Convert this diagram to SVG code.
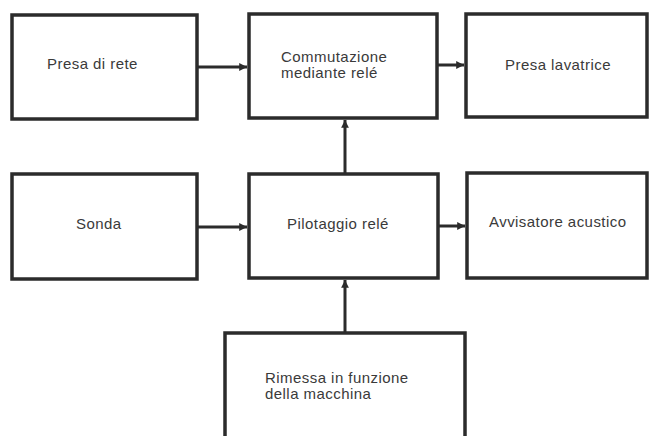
<svg xmlns="http://www.w3.org/2000/svg" width="649" height="436" viewBox="0 0 649 436">
<defs>
<style>
.box{fill:#fff;stroke:#2b2b2b;stroke-width:3.5}
.t{font-family:"Liberation Sans",Arial,sans-serif;font-size:15px;letter-spacing:0.45px;fill:#3a3a3a}
.c{stroke:#2b2b2b;stroke-width:3;fill:none}
</style>
<marker id="ah" viewBox="0 0 10 10" refX="10" refY="5" markerWidth="3" markerHeight="2.6" orient="auto" markerUnits="strokeWidth">
<path d="M0,0 L10,5 L0,10 z" fill="#2b2b2b"/>
</marker>
</defs>
<rect width="649" height="436" fill="#fff"/>
<g id="connectors">
<line class="c" x1="198" y1="67" x2="247" y2="67" marker-end="url(#ah)"/>
<line class="c" x1="438" y1="65" x2="464" y2="65" marker-end="url(#ah)"/>
<line class="c" x1="198" y1="227" x2="247" y2="227" marker-end="url(#ah)"/>
<line class="c" x1="439" y1="226" x2="465" y2="226" marker-end="url(#ah)"/>
<line class="c" x1="345" y1="173" x2="345" y2="120" marker-end="url(#ah)"/>
<line class="c" x1="345" y1="332" x2="345" y2="280" marker-end="url(#ah)"/>
</g>
<g id="presa-rete">
<rect class="box" x="12" y="15" width="185" height="104"/>
<text class="t" x="47" y="69">Presa di rete</text>
</g>
<g id="commutazione">
<rect class="box" x="249" y="14" width="188" height="104"/>
<text class="t" x="281" y="62">Commutazione</text>
<text class="t" x="281" y="78">mediante relé</text>
</g>
<g id="presa-lavatrice">
<rect class="box" x="466" y="14" width="181" height="103"/>
<text class="t" x="505" y="70">Presa lavatrice</text>
</g>
<g id="sonda">
<rect class="box" x="12" y="174" width="185" height="105"/>
<text class="t" x="76" y="229">Sonda</text>
</g>
<g id="pilotaggio">
<rect class="box" x="249" y="174" width="189" height="104"/>
<text class="t" x="287" y="229">Pilotaggio relé</text>
</g>
<g id="avvisatore">
<rect class="box" x="467" y="173" width="180" height="105"/>
<text class="t" x="489" y="227">Avvisatore acustico</text>
</g>
<g id="rimessa">
<rect class="box" x="225" y="333" width="240" height="120"/>
<text class="t" x="265" y="383">Rimessa in funzione</text>
<text class="t" x="265" y="399">della macchina</text>
</g>
</svg>
